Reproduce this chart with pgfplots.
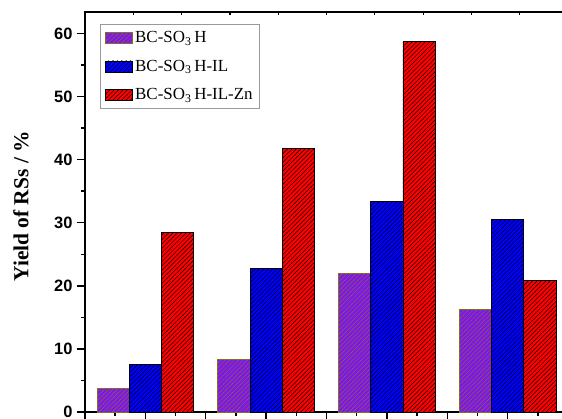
\documentclass[border=0pt]{standalone}
\usepackage{fontspec}
\setmainfont{Liberation Serif}
\newfontfamily\arialfont{Liberation Sans}
\usepackage{pgfplots}
\pgfplotsset{compat=1.18}
\usetikzlibrary{patterns.meta}
\definecolor{cpurple}{RGB}{128,20,240}
\definecolor{colive}{RGB}{128,110,40}
\definecolor{cblue}{RGB}{0,0,255}
\definecolor{cred}{RGB}{255,0,0}
\begin{document}
\begin{tikzpicture}
\begin{scope}
\clip (-85bp,-7bp) rectangle (477bp,412bp);
\begin{axis}[
  at={(0,0)}, anchor=south west,
  scale only axis, width=483bp, height=400bp,
  xmin=0.5, xmax=4.5, ymin=0, ymax=63.4,
  ybar, bar width=0.267,
  xtick={0.5,1,1.5,2,2.5,3,3.5,4,4.5}, minor x tick num=1, xticklabels={},
  ytick={0,10,20,30,40,50,60}, minor y tick num=1,
  xtick pos=left, ytick pos=left,
  tick align=outside,
  major tick length=8bp, minor tick length=4bp,
  axis line style={line width=2.2bp},
  every tick/.style={black, line width=1.4bp},
  /pgf/number format/assume math mode=true,
  yticklabel style={font=\arialfont\bfseries\fontsize{16.5}{18}\selectfont, xshift=-1bp},
  ylabel={\textbf{Yield of RSs / \%}},
  ylabel style={at={(axis description cs:-0.1325,0.514)}, anchor=center, font=\fontsize{21.5}{24}\selectfont},
  legend image code/.code={\draw[#1,line width=0.8bp] (0bp,-5.5bp) rectangle (27bp,5.5bp);},
  legend style={at={(axis description cs:0.031,0.97)}, anchor=north west, draw=gray!80, line width=0.8bp,
    font=\fontsize{17}{18}\selectfont, row sep=12bp, inner xsep=5bp, inner ysep=5bp},
  legend cell align=left,
]
\addplot[bar shift=-0.267, fill=cpurple, draw=colive, line width=0.9bp,
  postaction={pattern={Lines[angle=45,distance=3.1bp,line width=0.5bp]}, pattern color=colive}]
  coordinates {(1,3.7) (2,8.3) (3,22.0) (4,16.3)};
\addplot[bar shift=0, fill=cblue, draw=black, line width=0.9bp,
  postaction={pattern={Lines[angle=45,distance=3.1bp,line width=0.5bp]}, pattern color=black}]
  coordinates {(1,7.6) (2,22.8) (3,33.4) (4,30.5)};
\addplot[bar shift=0.267, fill=cred, draw=black, line width=0.9bp,
  postaction={pattern={Lines[angle=45,distance=3.1bp,line width=0.5bp]}, pattern color=black}]
  coordinates {(1,28.5) (2,41.7) (3,58.7) (4,20.9)};
\legend{BC-SO\textsubscript{3}\,H, BC-SO\textsubscript{3}\,H-IL, BC-SO\textsubscript{3}\,H-IL-Zn}
\end{axis}
\begin{axis}[
  at={(0,0)}, anchor=south west,
  scale only axis, width=483bp, height=400bp,
  xmin=0.5, xmax=4.5, ymin=0, ymax=1,
  axis x line*=top, axis y line=none,
  axis line style={draw=none},
  xtick={0.9,1.3,1.7,2.1,2.5,2.9,3.3,3.7,4.1}, xticklabels={},
  ytick=\empty,
  tick align=inside, major tick length=3bp,
  every tick/.style={black, line width=1.2bp},
]
\end{axis}
\end{scope}
\pgfresetboundingbox
\path[use as bounding box] (-85bp,-7bp) rectangle (477bp,412bp);
\end{tikzpicture}
\end{document}
